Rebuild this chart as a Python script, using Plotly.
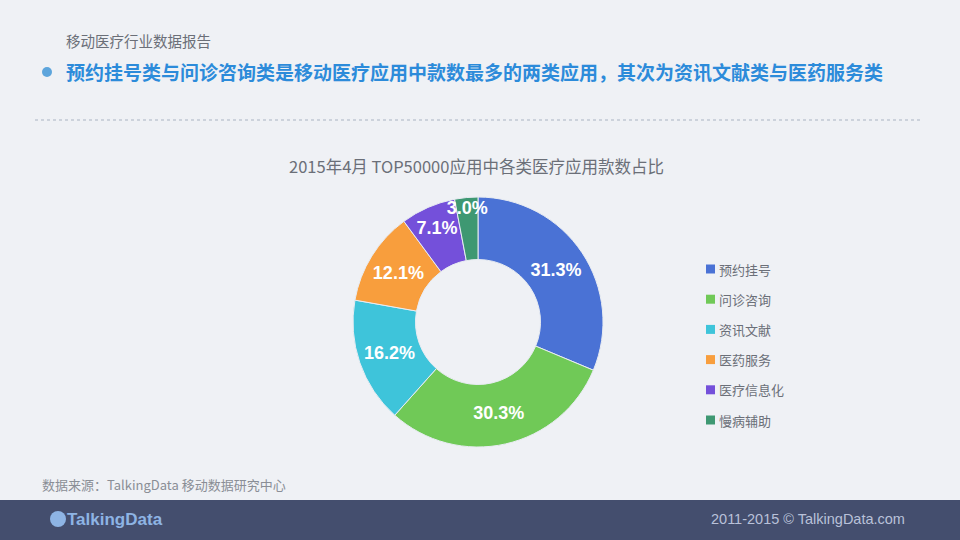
import plotly.graph_objects as go

categories = ["预约挂号", "问诊咨询", "资讯文献", "医药服务", "医疗信息化", "慢病辅助"]
shares = [31.3, 30.3, 16.2, 12.1, 7.1, 3.0]
colors = ["#4A72D5", "#70C957", "#3EC4DA", "#F89E3D", "#7450DA", "#3E9872"]

BG = "#EFF1F5"
W, H = 960, 540
CJK = "Noto Sans CJK SC, Liberation Sans, sans-serif"
LAT = "Liberation Sans, Arial, sans-serif"

fig = go.Figure()
cx, cy, R = 478, 322, 125
fig.add_trace(go.Pie(
    labels=categories, values=shares, sort=False, direction="clockwise", rotation=0,
    hole=0.5, marker=dict(colors=colors, line=dict(color="#E8ECF2", width=1)),
    texttemplate="%{value:.1f}%", textposition="inside", insidetextorientation="horizontal",
    textfont=dict(color="white", size=18, family=LAT, weight="bold"),
    domain=dict(x=[(cx - R) / W, (cx + R) / W], y=[(H - cy - R) / H, (H - cy + R) / H]),
    showlegend=False, hoverinfo="label+percent",
))

shapes = []
annotations = []

# footer band
shapes.append(dict(type="rect", xref="paper", yref="paper", x0=0, x1=1, y0=0, y1=40 / H,
                   fillcolor="#444E6E", line=dict(width=0), layer="below"))
# dotted separator
shapes.append(dict(type="line", xref="paper", yref="paper", x0=35 / W, x1=922 / W,
                   y0=(H - 120) / H, y1=(H - 120) / H, line=dict(color="#A9B3C2", width=1, dash="dot")))
# bullet
shapes.append(dict(type="circle", xref="paper", yref="paper", x0=42 / W, x1=52 / W,
                   y0=(H - 77) / H, y1=(H - 67) / H, fillcolor="#5DA5DC", line=dict(width=0)))

def txt(x, y, s, size, color, anchor="left", bold=False, family=CJK):
    annotations.append(dict(xref="paper", yref="paper", x=x / W, y=(H - y) / H, text=s,
                            showarrow=False, xanchor=anchor, yanchor="middle",
                            xshift=-2 if anchor == "left" else (2 if anchor == "right" else 0),
                            font=dict(size=size, color=color, family=family,
                                      weight="bold" if bold else "normal")))

txt(66, 40, "移动医疗行业数据报告", 14.5, "#6B6F78")
txt(66, 72, "预约挂号类与问诊咨询类是移动医疗应用中款数最多的两类应用，其次为资讯文献类与医药服务类", 19, "#2C8BDA", bold=True)
txt(476, 166, "2015年4月 TOP50000应用中各类医疗应用款数占比", 16.5, "#6B6F78", anchor="center")
txt(42, 484, "数据来源：TalkingData 移动数据研究中心", 13, "#8A8E96")
txt(905, 519, "2011-2015 © TalkingData.com", 14.5, "#B9C1D9", anchor="right", family=LAT)
txt(67, 519, "TalkingData", 17, "#8EB4E4", bold=True, family=LAT)
shapes.append(dict(type="circle", xref="paper", yref="paper", x0=50 / W, x1=66 / W,
                   y0=(H - 527) / H, y1=(H - 511) / H, fillcolor="#8EB4E4", line=dict(width=0)))

# legend
ly0, lgap = 269, 30.2
for i, (c, col) in enumerate(zip(categories, colors)):
    y = ly0 + i * lgap
    shapes.append(dict(type="rect", xref="paper", yref="paper", x0=706 / W, x1=715 / W,
                       y0=(H - y - 4.5) / H, y1=(H - y + 4.5) / H, fillcolor=col, line=dict(width=0)))
    txt(719, y, c, 13, "#6B6F78")

fig.update_layout(
    width=W, height=H, margin=dict(l=0, r=0, t=0, b=0),
    paper_bgcolor=BG, plot_bgcolor=BG,
    shapes=shapes, annotations=annotations,
    uniformtext=dict(minsize=18, mode="show"),
    font=dict(family=CJK),
)
fig.write_html("out.html", config={"displayModeBar": False},
               post_script="document.body.style.margin='0';document.body.style.background='#EFF1F5';")
